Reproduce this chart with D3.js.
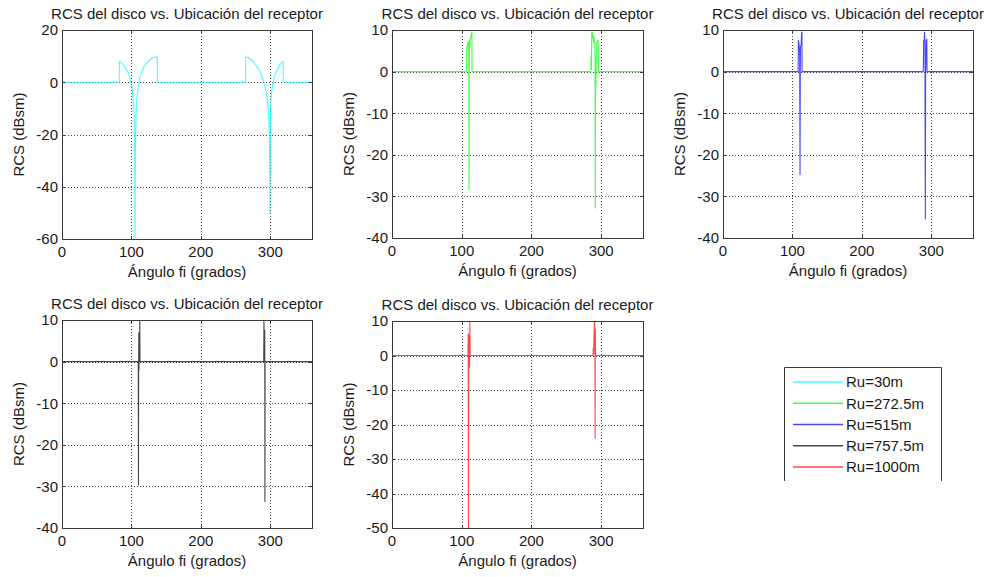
<!DOCTYPE html>
<html>
<head>
<meta charset="utf-8">
<script src="https://cdn.jsdelivr.net/npm/d3@7"></script>
<style>
  html, body { margin: 0; padding: 0; background: #fff; }
  svg { display: block; }
  text { font-family: Arial, "Liberation Sans", Helvetica, sans-serif; fill: #1a1a1a; }
</style>
</head>
<body>
<svg id="fig" width="993" height="577"></svg>
<script>
// Receiver azimuth (degrees) and disc RCS (dBsm) for each receiver distance Ru
const phi30  = [0, 82.5, 82.6, 85, 88.3, 91, 95.5, 98, 100.3, 101.5, 102.7, 103.5, 104.1, 104.6, 105.1, 105.6, 106.2, 107, 108.5, 110, 112, 115, 118, 122, 126, 129, 131.5, 134, 137.2, 137.3, 264.4, 264.5, 268, 271, 275.4, 280, 285, 289, 292.3, 294.5, 296, 297.1, 298, 298.8, 299.5, 300, 300.5, 301.5, 302.5, 304, 306, 308.8, 311, 313.5, 316, 318.6, 318.7, 360];
const rcs30  = [0, 0, 8, 7.6, 6.7, 5.6, 3.5, 1.6, -1.6, -3.8, -6.8, -10.5, -15.7, -26, -59, -28, -16, -9.5, -4.5, -1.5, 1.7, 4.2, 5.9, 7.4, 8.5, 9.1, 9.5, 9.6, 9.6, 0, 0, 9.6, 9.5, 9.0, 7.9, 6.3, 4.1, 1.7, -1.6, -4.5, -7.5, -10.6, -15, -24, -50, -20, -8, -5, -2.5, -0.3, 2.3, 4.1, 5.4, 6.6, 7.5, 8, 0, 0];

const phi272 = [0, 106.5, 106.8, 107.3, 107.8, 108.4, 109, 109.6, 110.1, 110.4, 110.8, 111.2, 111.7, 112.3, 113, 113.6, 114.2, 114.6, 114.8, 285.3, 285.6, 286, 286.5, 287.3, 288, 288.6, 289.3, 290, 290.7, 291.2, 291.6, 292, 292.5, 293.2, 294, 295, 295.8, 296.2, 360];
const rcs272 = [0, 0, 1, 6, 5.2, 6.5, 7, 6.4, 7.2, -28.4, 0, 7.5, 6.2, 7.8, 8, 8.8, 9.5, 9.5, 0, 0, 4, 0.5, 9.5, 9.5, 8, 8.6, 7, 8, 6.5, 7, -32.8, -1, -3.4, 5, 7, 7.5, 7.5, 0, 0];

const phi515 = [0, 108.2, 108.5, 109.2, 109.8, 110.4, 110.9, 111.3, 111.6, 112.5, 113.2, 113.7, 113.9, 288.2, 288.5, 289, 289.6, 290.2, 290.8, 291.4, 291.8, 292.2, 292.7, 293.5, 293.8, 360];
const rcs515 = [0, 0, 7.5, 7, 6, 4, -24.8, 0, 6, 6.2, 9.5, 9.5, 0, 0, 1, 7.5, 7, 9.5, 7, -35.4, 0, 3.5, 7.5, 7.8, 0, 0];

const phi757 = [0, 109.8, 110.1, 110.4, 110.6, 110.9, 111.2, 111.6, 112, 112.3, 290.5, 290.8, 291.1, 291.4, 291.7, 292, 292.2, 292.5, 360];
const rcs757 = [0, 0, -29.6, 0, 6.9, -1.9, 5, 0, 9.7, 0, 0, 9.7, 1, 7.7, 0.5, 7.5, -33.6, 0, 0];

const phi1000 = [0, 109, 109.3, 109.7, 110.1, 110.6, 111.3, 111.7, 112, 288.4, 288.7, 289.2, 289.8, 290.4, 290.7, 291, 291.3, 291.6, 292, 360];
const rcs1000 = [0, 0, 6.3, -50, 6, 0, -3.3, 9.6, 0, 0, 2, 0.5, 6, 10, 7.5, 8, -24, 7.5, 0, 0];

const seriesLabels = ["Ru=30m", "Ru=272.5m", "Ru=515m", "Ru=757.5m", "Ru=1000m"];
const seriesColors = ["#00ffff", "#00ff00", "#0000ff", "#000000", "#ff0000"];
const xTicks = [0, 100, 200, 300];
const yTicksWide = [20, 0, -20, -40, -60];
const yTicksMid = [10, 0, -10, -20, -30, -40];
const yTicksDeep = [10, 0, -10, -20, -30, -40, -50];
const titleText = "RCS del disco vs. Ubicación del receptor";
const xLabelText = "Ángulo fi (grados)";
const yLabelText = "RCS (dBsm)";

const panels = [
  { phi: phi30,   rcs: rcs30,   ci: 0, yDom: [-60, 20], yTicks: yTicksWide, box: [62, 312, 30, 239] },
  { phi: phi272,  rcs: rcs272,  ci: 1, yDom: [-40, 10], yTicks: yTicksMid,  box: [392, 643, 30, 238] },
  { phi: phi515,  rcs: rcs515,  ci: 2, yDom: [-40, 10], yTicks: yTicksMid,  box: [723, 973, 30, 238] },
  { phi: phi757,  rcs: rcs757,  ci: 3, yDom: [-40, 10], yTicks: yTicksMid,  box: [62, 312, 320, 528] },
  { phi: phi1000, rcs: rcs1000, ci: 4, yDom: [-50, 10], yTicks: yTicksDeep, box: [392, 643, 321, 528] }
];

const svg = d3.select("#fig");
const FS = 15;

panels.forEach((p, i) => {
  const [x0, x1, y0, y1] = p.box;
  const x = d3.scaleLinear().domain([0, 360]).range([x0, x1]);
  const y = d3.scaleLinear().domain(p.yDom).range([y1, y0]);
  const g = svg.append("g");

  // dotted grid at interior ticks
  g.selectAll("line.gx").data(xTicks.filter(t => t > 0)).enter().append("line")
    .attr("x1", d => Math.round(x(d)) + 0.5).attr("x2", d => Math.round(x(d)) + 0.5)
    .attr("y1", y0).attr("y2", y1)
    .attr("stroke", "#444").attr("stroke-width", 1).attr("stroke-dasharray", "1,2");
  g.selectAll("line.gy").data(p.yTicks.filter(t => t > p.yDom[0] && t < p.yDom[1])).enter().append("line")
    .attr("y1", d => Math.round(y(d)) + 0.5).attr("y2", d => Math.round(y(d)) + 0.5)
    .attr("x1", x0).attr("x2", x1)
    .attr("stroke", "#444").attr("stroke-width", 1).attr("stroke-dasharray", "1,2");

  // data trace, clipped to the axes
  const cid = "clip" + i;
  svg.append("clipPath").attr("id", cid).append("rect")
    .attr("x", x0).attr("y", y0).attr("width", x1 - x0).attr("height", y1 - y0);
  const pts = p.phi.map((a, k) => [a, p.rcs[k]]);
  const line = d3.line().x(d => x(d[0])).y(d => y(d[1]));
  g.append("path").datum(pts)
    .attr("clip-path", `url(#${cid})`)
    .attr("d", line)
    .attr("fill", "none")
    .attr("stroke", seriesColors[p.ci])
    .attr("stroke-opacity", 0.72)
    .attr("stroke-width", 1.1)
    .attr("stroke-linejoin", "round");

  // axes box
  g.append("rect")
    .attr("x", x0 + 0.5).attr("y", y0 + 0.5)
    .attr("width", x1 - x0).attr("height", y1 - y0)
    .attr("fill", "none").attr("stroke", "#3a3a3a").attr("stroke-width", 1);

  // inward tick marks on all four sides
  const tl = 3;
  xTicks.forEach(t => {
    const xx = Math.round(x(t)) + 0.5;
    g.append("line").attr("x1", xx).attr("x2", xx).attr("y1", y1).attr("y2", y1 - tl).attr("stroke", "#3a3a3a");
    g.append("line").attr("x1", xx).attr("x2", xx).attr("y1", y0).attr("y2", y0 + tl).attr("stroke", "#3a3a3a");
  });
  p.yTicks.forEach(t => {
    const yy = Math.round(y(t)) + 0.5;
    g.append("line").attr("x1", x0).attr("x2", x0 + tl).attr("y1", yy).attr("y2", yy).attr("stroke", "#3a3a3a");
    g.append("line").attr("x1", x1).attr("x2", x1 - tl).attr("y1", yy).attr("y2", yy).attr("stroke", "#3a3a3a");
  });

  // tick labels
  g.selectAll("text.xt").data(xTicks).enter().append("text")
    .attr("x", d => x(d)).attr("y", y1 + 18)
    .attr("text-anchor", "middle").attr("font-size", FS)
    .text(d => d);
  g.selectAll("text.yt").data(p.yTicks).enter().append("text")
    .attr("x", x0 - 4).attr("y", d => y(d)).attr("dy", "0.36em")
    .attr("text-anchor", "end").attr("font-size", FS)
    .text(d => d);

  // title and axis labels
  g.append("text").attr("x", (x0 + x1) / 2).attr("y", y0 - 11)
    .attr("text-anchor", "middle").attr("font-size", FS).text(titleText);
  g.append("text").attr("x", (x0 + x1) / 2).attr("y", y1 + 38)
    .attr("text-anchor", "middle").attr("font-size", FS).text(xLabelText);
  g.append("text")
    .attr("transform", `translate(${x0 - 43},${(y0 + y1) / 2}) rotate(-90)`)
    .attr("dy", "0.36em")
    .attr("text-anchor", "middle").attr("font-size", FS).text(yLabelText);
});

// legend (box open at the bottom)
const lg = svg.append("g");
const lx0 = 784, lx1 = 941, ly0 = 367, ly1 = 481;
lg.append("path")
  .attr("d", `M${lx0 + 0.5},${ly1} L${lx0 + 0.5},${ly0 + 0.5} L${lx1 + 0.5},${ly0 + 0.5} L${lx1 + 0.5},${ly1}`)
  .attr("fill", "none").attr("stroke", "#3a3a3a").attr("stroke-width", 1);
const ly = d3.scalePoint().domain(seriesLabels).range([382, 467]);
seriesLabels.forEach((lab, k) => {
  lg.append("line")
    .attr("x1", 793).attr("x2", 843)
    .attr("y1", ly(lab)).attr("y2", ly(lab))
    .attr("stroke", seriesColors[k]).attr("stroke-opacity", 0.72).attr("stroke-width", 1.5);
  lg.append("text").attr("x", 846).attr("y", ly(lab)).attr("dy", "0.36em")
    .attr("font-size", FS).text(lab);
});
</script>
</body>
</html>
